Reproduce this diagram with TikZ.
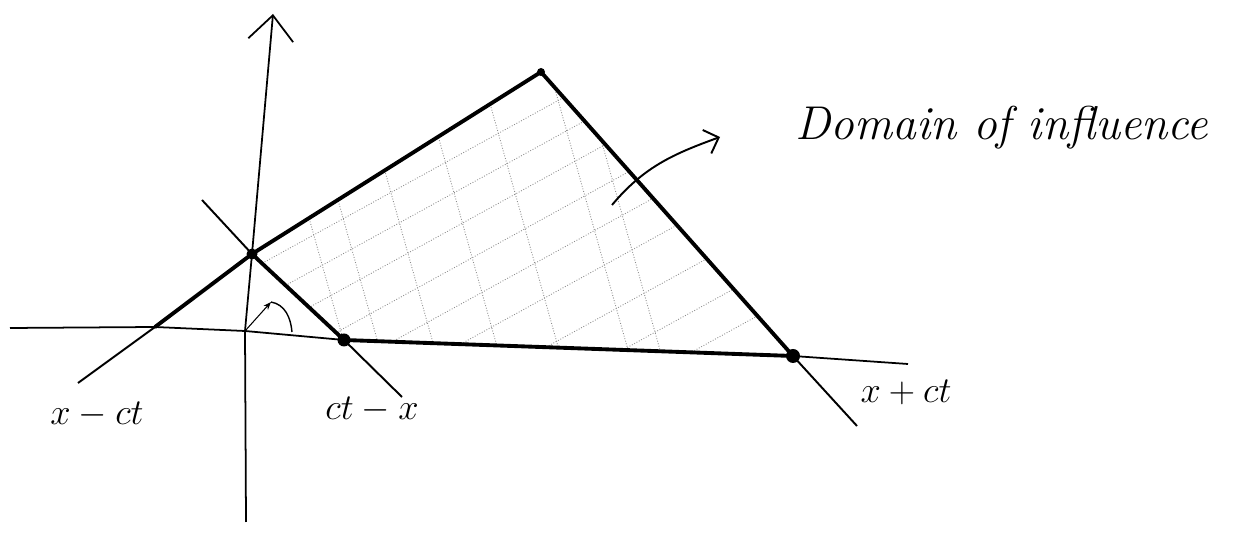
\documentclass[tikz,border=0pt]{standalone}
\usepackage{amsmath,amssymb}
\usetikzlibrary{arrows.meta, calc}

\begin{document}
\begin{tikzpicture}[
  axis/.style  = {line width=1pt, line join=round},
  edge/.style  = {line width=2.2pt, line cap=round, line join=round},
  ext/.style   = {line width=1.1pt},
  hatch/.style = {black!45, line width=0.5pt, densely dotted},
  vert/.style  = {circle, fill=black, inner sep=0pt, minimum size=2.2mm},
  lbl/.style   = {font=\fontsize{22}{26}\selectfont, inner sep=0pt},
  note/.style  = {font=\fontsize{27}{32}\selectfont\itshape, inner sep=0pt},
  barb/.style  = {-{Straight Barb[length=2.5mm, width=5mm]}, line width=1.1pt},
]
\useasboundingbox (0,0) rectangle (25.18,10.66);

% --- corners -------------------------------------------------------------
\coordinate (O) at (4.90,4.04);
\coordinate (A) at (5.04,5.58);
\coordinate (P) at (10.82,9.22);
\coordinate (R) at (15.86,3.54);
\coordinate (B) at (6.88,3.86);
\coordinate (L) at (3.10,4.12);

% --- hatching ------------------------------------------------------------
\begin{scope}
  \clip (A) -- (P) -- (R) -- (B) -- cycle;
  \foreach \c in {270,305,340,380,420,460,510,555,595}
    \draw[hatch] (4,{(533-\c)/50-0.55}) -- ++(13,7.15);
  \foreach \d in {318,352,407,470,531,600,632}
    \draw[hatch] ({\d/50+0.84},2.66) -- ++(-2.24,8);
\end{scope}

% --- axes ----------------------------------------------------------------
\coordinate (xbeg) at (0.20,4.10);
\coordinate (xend) at (18.16,3.38);
\coordinate (ybot) at (4.92,0.22);
\coordinate (ytop) at (5.46,10.38);
\draw[axis] (xbeg) -- (L) -- (O) -- (B) -- (R) -- (xend);
\draw[axis, -{Straight Barb[length=5mm, width=9mm]}] (ybot) -- (O) -- (A) -- (ytop);

% --- characteristics -----------------------------------------------------
\coordinate (Lx) at (1.56,3.00);
\coordinate (Ax) at (4.04,6.66);
\coordinate (Bx) at (8.04,2.72);
\coordinate (Rx) at (17.14,2.14);
\draw[ext] (Lx) -- (L);
\draw[ext] (Ax) -- (A);
\draw[ext] (B) -- (Bx);
\draw[ext] (R) -- (Rx);

\draw[edge] (L) -- (A) -- (P) -- (R) -- (B) -- (A);
\node[vert] (dA) at (A) {};
\node[vert, minimum size=1.6mm] (dP) at (P) {};
\node[vert, minimum size=2.8mm] (dR) at (R) {};
\node[vert, minimum size=2.6mm] (dB) at (B) {};

% --- angle mark ----------------------------------------------------------
\coordinate (M) at (5.42,4.62);
\coordinate (Mx) at (5.84,4.02);
\draw[line width=0.6pt, -{Stealth[length=1.6mm]}] (O) -- (M);
\draw[line width=0.8pt] (M) to[out=-10,in=95] (Mx);

% --- labels --------------------------------------------------------------
\node[lbl] (xm) at (1.94,2.36) {$x-ct$};
\node[lbl] (cx) at (7.44,2.46) {$ct-x$};
\node[lbl] (xp) at (18.12,2.82) {$x+ct$};
\node[note, anchor=base] (dom) at (20.04,7.86) {Domain of influence};

\coordinate (h) at (12.24,6.56);
\coordinate (ht) at (14.40,7.92);
\draw[barb] (h) to[out=50,in=200] (ht);

\end{tikzpicture}
\end{document}
